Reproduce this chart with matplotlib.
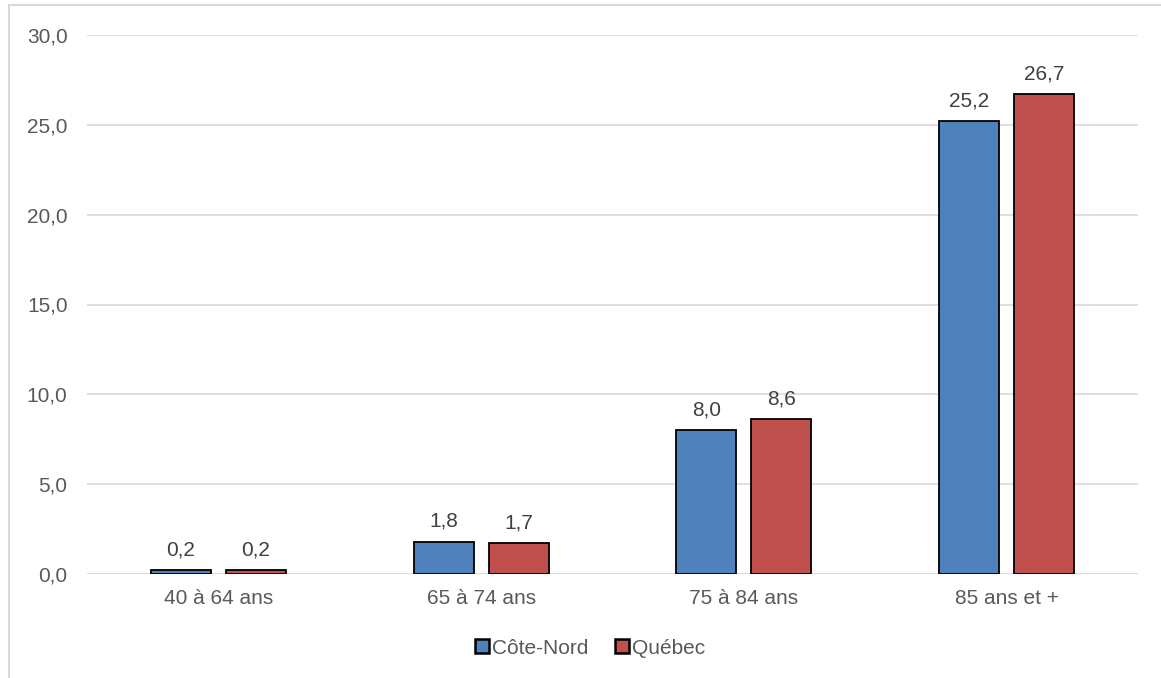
import numpy as np
import matplotlib.pyplot as plt
from matplotlib.patches import Rectangle

categories = ["40 à 64 ans", "65 à 74 ans", "75 à 84 ans", "85 ans et +"]
cote_nord = [0.2, 1.8, 8.0, 25.2]
quebec = [0.2, 1.7, 8.6, 26.7]
series_names = ["Côte-Nord", "Québec"]
yticks = [0, 5, 10, 15, 20, 25, 30]

plt.rcParams['font.family'] = ['Liberation Sans', 'DejaVu Sans']

fig = plt.figure(figsize=(11.61, 6.78), dpi=100)
# outer chart border
fig.patches.append(Rectangle((9 / 1161, -0.01), 1.2, 673 / 678 + 0.01,
                             transform=fig.transFigure, fill=False,
                             edgecolor='#d9d9d9', linewidth=1.5))
ax = fig.add_axes([87 / 1161, 1 - 574 / 678, (1138 - 87) / 1161, (574 - 35) / 678])

x = np.arange(len(categories))
w = 0.228
off = 0.143
b1 = ax.bar(x - off, cote_nord, w, color='#4f81bd', edgecolor='black',
            linewidth=1.3, label=series_names[0], zorder=3)
b2 = ax.bar(x + off, quebec, w, color='#c0504d', edgecolor='black',
            linewidth=1.3, label=series_names[1], zorder=3)

# data labels
for bars, vals in ((b1, cote_nord), (b2, quebec)):
    for b, v in zip(bars, vals):
        ax.annotate(f"{v:.1f}".replace('.', ','), (b.get_x() + b.get_width() / 2, v),
                    xytext=(0, 8), textcoords='offset points', ha='center', va='bottom',
                    fontsize=15, color='#404040')

ax.set_xlim(-0.5, len(categories) - 0.5)
ax.set_ylim(0, 30)
ax.set_yticks(yticks)
ax.set_yticklabels([f"{t:.1f}".replace('.', ',') for t in yticks])
ax.set_xticks(x)
ax.set_xticklabels(categories)
ax.tick_params(axis='both', length=0, labelsize=15, labelcolor='#595959')
ax.tick_params(axis='y', pad=14)
ax.tick_params(axis='x', pad=11)
ax.grid(axis='y', color='#d9d9d9', linewidth=1.2, zorder=0)
for s in ax.spines.values():
    s.set_visible(False)
ax.axhline(0, color='#d9d9d9', linewidth=1.2, zorder=1)

leg = fig.legend(handles=[b1, b2], loc='center', bbox_to_anchor=(590 / 1161, 1 - 648 / 678),
                 ncol=2, frameon=False, fontsize=15, handlelength=0.65, handleheight=0.65,
                 handletextpad=0.15, columnspacing=1.3)
for t in leg.get_texts():
    t.set_color('#595959')
for h in leg.legend_handles:
    h.set_linewidth(1.8)

fig.savefig("out.png", dpi=100)
